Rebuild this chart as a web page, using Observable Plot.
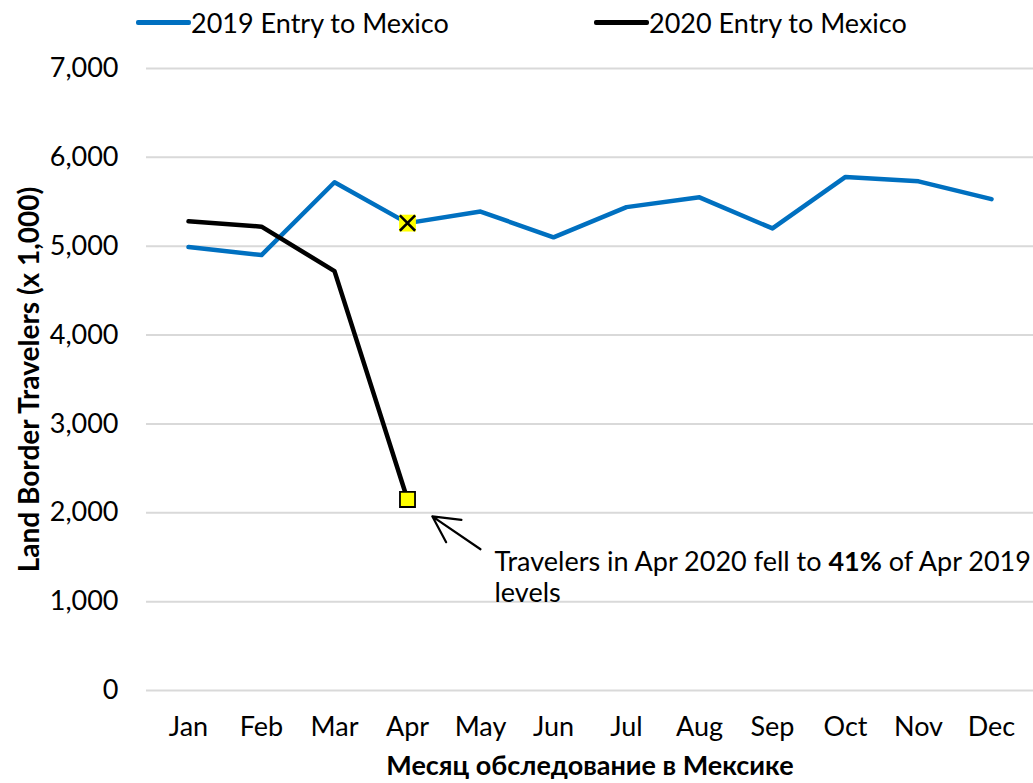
<!DOCTYPE html>
<html>
<head>
<meta charset="utf-8">
<script src="https://cdn.jsdelivr.net/npm/d3@7"></script>
<script src="https://cdn.jsdelivr.net/npm/@observablehq/plot@0.6"></script>
<style>
  body { margin: 0; background: #fff; font-family: Lato, "Noto Sans", sans-serif; }
  #legend { position: relative; width: 1033px; height: 44px; font-size: 27px; color: #000; }
  .item { position: absolute; top: 0; height: 44px; display: flex; align-items: center; }
  .sw { width: 55px; height: 5px; border-radius: 2px; }
</style>
</head>
<body>
<div id="legend"></div>
<div id="chart"></div>
<script>
const months = ["Jan","Feb","Mar","Apr","May","Jun","Jul","Aug","Sep","Oct","Nov","Dec"];
const entry2019 = [4990, 4900, 5720, 5260, 5390, 5100, 5440, 5550, 5200, 5780, 5730, 5530];
const entry2020 = [5280, 5220, 4720, 2150];
const yTicks = [0, 1000, 2000, 3000, 4000, 5000, 6000, 7000];
const seriesNames = ["2019 Entry to Mexico", "2020 Entry to Mexico"];
const seriesColors = ["#0070C0", "#000000"];
const highlightMonth = "Apr";
const annotationValue = 1590;   // arrow tail level
const annotationMonth = "May";
const annotationLines = ["Travelers in Apr 2020 fell to 41% of Apr 2019", "levels"];
const yLabel = "Land Border Travelers (x 1,000)";
const xLabel = "Месяц обследование в Мексике";

// legend
const legend = document.getElementById("legend");
const legendPos = [136, 594];
seriesNames.forEach((name, i) => {
  const it = document.createElement("div");
  it.className = "item";
  it.style.left = legendPos[i] + "px";
  it.innerHTML = `<div class="sw" style="background:${seriesColors[i]}"></div><span>${name}</span>`;
  legend.appendChild(it);
});

const d2019 = months.map((m, i) => ({month: m, value: entry2019[i]}));
const d2020 = entry2020.map((v, i) => ({month: months[i], value: v}));
const hi2019 = d2019.filter(d => d.month === highlightMonth);
const hi2020 = d2020.filter(d => d.month === highlightMonth);
const arrowData = [{x1: annotationMonth, y1: annotationValue, x2: highlightMonth, y2: hi2020[0].value}];

const font = "Lato, 'Noto Sans', sans-serif";

const chart = Plot.plot({
  width: 1033,
  height: 739,
  marginLeft: 146,
  marginRight: 0,
  marginTop: 24,
  marginBottom: 93,
  style: {fontFamily: font, background: "#fff", color: "#000", overflow: "visible"},
  x: {type: "point", domain: months, padding: 0.5},
  y: {domain: [0, 7000]},
  marks: [
    Plot.gridY(yTicks, {stroke: "#d9d9d9", strokeOpacity: 1, strokeWidth: 2}),
    Plot.axisY(yTicks, {tickSize: 0, tickPadding: 28, fontSize: 27, tickFormat: d3.format(","), label: null}),
    Plot.axisX({tickSize: 0, tickPadding: 26, fontSize: 27, label: null}),
    Plot.text([yLabel], {frameAnchor: "left", dx: -116, rotate: -90, text: d => d, fontSize: 28, fontWeight: "bold", textAnchor: "middle", lineAnchor: "middle"}),
    Plot.text([xLabel], {frameAnchor: "bottom", dy: 76, text: d => d, fontSize: 27, fontWeight: "bold", textAnchor: "middle", lineAnchor: "middle"}),
    Plot.line(d2019, {x: "month", y: "value", stroke: seriesColors[0], strokeWidth: 4.5}),
    Plot.line(d2020, {x: "month", y: "value", stroke: seriesColors[1], strokeWidth: 4.5}),
    Plot.dot(hi2019, {x: "month", y: "value", symbol: "square", r: 9.5, fill: "#ffff00", stroke: "none"}),
    Plot.dot(hi2019, {x: "month", y: "value", symbol: "times", r: 7, stroke: "#000", strokeWidth: 2.5}),
    Plot.dot(hi2020, {x: "month", y: "value", symbol: "square", r: 8.5, fill: "#ffff00", stroke: "#000", strokeWidth: 1.8}),
    Plot.arrow(arrowData, {x1: "x1", y1: "y1", x2: "x2", y2: "y2", insetEnd: 30, stroke: "#000", strokeWidth: 2.2, headLength: 20, headAngle: 55}),
    Plot.text([annotationLines.join("\n")], {x: () => annotationMonth, y: () => annotationValue, text: d => d, dx: 14, textAnchor: "start", lineAnchor: "top", lineHeight: 1.15, fontSize: 27, className: "annot"})
  ]
});
document.getElementById("chart").appendChild(chart);

// bold "41%" in the annotation
chart.querySelectorAll("text tspan, text").forEach(el => {
  if (el.childElementCount === 0 && el.textContent.includes("41%")) {
    const parts = el.textContent.split("41%");
    el.textContent = "";
    const ns = "http://www.w3.org/2000/svg";
    const a = document.createElementNS(ns, "tspan"); a.textContent = parts[0];
    const b = document.createElementNS(ns, "tspan"); b.textContent = "41%"; b.setAttribute("font-weight", "bold");
    const c = document.createElementNS(ns, "tspan"); c.textContent = parts[1];
    el.append(a, b, c);
  }
});
</script>
</body>
</html>
